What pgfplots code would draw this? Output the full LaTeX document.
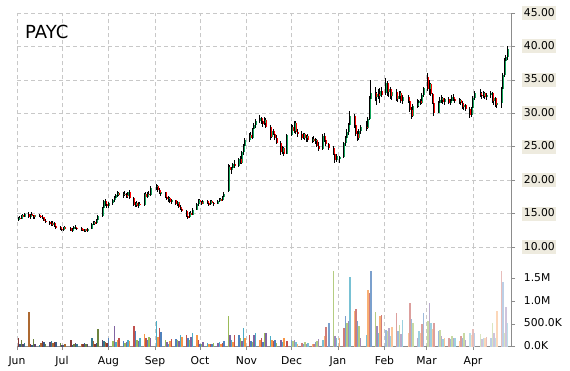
\documentclass[border=0pt]{standalone}
\usepackage{fontspec}
\setmainfont{DejaVu Sans}
\usepackage{pgfplots}
\pgfplotsset{compat=1.18}
\usepackage{pgfplotstable}
\definecolor{upc}{HTML}{12A55A}
\definecolor{dnc}{HTML}{FF0000}
\definecolor{gridc}{HTML}{C8C8C8}
\definecolor{axc}{HTML}{8C8C8C}
\definecolor{tickbg}{HTML}{EEEBDF}
\definecolor{vA}{HTML}{C0504D}
\definecolor{vB}{HTML}{4F81BD}
\definecolor{vC}{HTML}{9BBB59}
\definecolor{vD}{HTML}{8064A2}
\definecolor{vE}{HTML}{4BACC6}
\definecolor{vF}{HTML}{F79646}

\pgfplotstableread{
d o h l c v
1 14.2 14.6 14.0 14.4 0.18
2 14.4 14.7 14.2 14.3 0.05
3 14.3 14.9 14.2 14.8 0.15
4 14.8 15.0 14.5 14.6 0.06
5 14.6 15.1 14.5 15.0 0.08
8 15.0 15.2 14.4 14.5 0.77
9 14.5 15.0 14.3 14.9 0.05
10 14.9 15.2 14.6 14.8 0.04
11 14.8 14.9 14.3 14.5 0.16
12 14.5 14.9 14.3 14.8 0.06
15 14.8 15.0 14.5 14.7 0.04
16 14.7 14.9 14.4 14.6 0.08
17 14.6 14.8 14.2 14.4 0.12
18 14.5 14.6 13.9 14.0 0.10
19 14.0 14.2 13.6 13.8 0.07
22 13.8 14.0 13.4 13.6 0.10
23 13.6 13.9 13.2 13.4 0.12
24 13.4 13.9 13.2 13.7 0.09
25 13.7 13.8 13.0 13.2 0.11
26 13.2 13.4 12.8 13.0 0.10
29 13.0 13.2 12.6 12.8 0.08
30 12.8 13.0 12.4 12.6 0.04
31 12.6 13.1 12.5 13.0 0.03
32 13.0 13.2 12.7 12.9 0.05
36 12.9 13.0 12.4 12.5 0.14
37 12.5 12.9 12.3 12.8 0.04
38 12.8 13.2 12.6 13.1 0.05
39 13.1 13.3 12.8 12.9 0.08
40 12.9 13.1 12.6 12.8 0.05
43 12.8 13.0 12.5 12.7 0.06
44 12.7 12.9 12.4 12.5 0.05
45 12.5 12.8 12.3 12.7 0.08
46 12.7 12.8 12.3 12.4 0.05
47 12.4 12.9 12.3 12.8 0.06
50 12.8 13.6 12.7 13.5 0.20
51 13.5 14.0 13.3 13.8 0.13
52 13.8 14.0 13.4 13.6 0.06
53 13.6 14.2 13.5 14.1 0.08
54 14.1 14.9 14.0 14.7 0.38
57 14.7 16.0 14.6 15.8 0.15
58 15.8 17.1 15.6 16.9 0.12
59 16.9 17.2 16.2 16.4 0.10
60 16.4 16.8 15.8 16.2 0.08
61 16.2 16.8 15.8 16.6 0.18
64 16.6 17.2 16.3 17.0 0.12
65 17.0 17.6 16.8 17.4 0.45
66 17.4 18.0 17.0 17.8 0.10
67 17.8 18.4 17.5 18.1 0.15
68 18.1 18.3 17.6 17.8 0.18
71 17.8 18.2 17.4 18.0 0.12
72 18.0 18.4 17.6 17.8 0.08
73 17.8 18.1 17.3 17.6 0.10
74 17.6 18.3 17.4 18.2 0.15
75 18.3 18.5 17.2 17.3 0.12
78 17.3 17.5 16.1 16.3 0.45
79 16.3 16.8 16.0 16.6 0.35
80 16.6 16.9 16.0 16.2 0.15
81 16.2 16.7 15.9 16.5 0.12
82 16.5 16.8 16.1 16.3 0.18
85 16.3 18.1 16.2 17.9 0.28
86 17.9 18.3 17.2 17.5 0.18
87 17.5 18.2 17.3 18.0 0.15
88 18.0 18.4 17.6 17.8 0.22
89 17.8 19.1 17.7 18.9 0.18
93 19.0 19.5 18.6 19.2 0.57
94 19.2 19.3 18.3 18.5 0.22
95 18.5 18.8 17.9 18.1 0.42
96 18.1 18.4 17.6 18.2 0.33
99 18.2 18.3 17.3 17.5 0.15
100 17.5 17.8 17.0 17.2 0.10
101 17.2 17.6 16.8 17.4 0.07
102 17.4 17.5 16.6 16.8 0.12
103 16.8 17.2 16.5 17.0 0.17
106 17.0 17.1 16.3 16.5 0.17
107 16.5 16.9 16.2 16.7 0.14
108 16.7 16.8 15.8 16.0 0.12
109 16.0 16.3 15.5 15.7 0.25
110 15.7 16.0 15.2 15.4 0.22
113 15.4 15.6 14.5 14.7 0.26
114 14.7 15.0 14.2 14.5 0.18
115 14.5 15.2 14.4 15.1 0.14
116 15.1 15.4 14.7 14.9 0.22
117 14.9 15.8 14.8 15.6 0.31
120 15.6 16.6 15.5 16.4 0.25
121 16.4 17.2 16.2 17.0 0.15
122 17.0 17.2 16.5 16.7 0.06
123 16.7 16.9 16.3 16.5 0.05
124 16.5 17.0 16.4 16.9 0.10
127 16.9 17.1 16.5 16.6 0.08
128 16.6 16.8 16.2 16.4 0.05
129 16.4 17.0 16.3 16.9 0.07
130 16.9 17.1 16.5 16.6 0.05
131 16.6 16.8 16.2 16.5 0.08
134 16.5 17.0 16.4 16.9 0.09
135 16.9 17.3 16.7 17.2 0.10
136 17.2 17.4 16.9 17.0 0.06
137 17.0 17.7 16.9 17.5 0.08
138 17.5 18.2 17.4 18.0 0.12
141 18.4 22.4 18.3 22.0 0.68
142 22.0 22.3 21.2 21.5 0.26
143 21.5 22.0 21.0 21.8 0.15
144 21.8 22.6 21.5 22.4 0.10
145 22.4 23.0 21.9 22.1 0.25
148 22.1 23.4 22.0 23.2 0.25
149 23.2 23.7 22.4 22.6 0.18
150 22.6 24.4 22.5 24.2 0.12
151 24.2 25.4 23.8 25.1 0.42
152 25.1 26.4 24.6 26.0 0.20
155 26.0 27.1 25.7 26.8 0.26
156 26.8 27.2 26.0 26.4 0.12
157 26.4 27.8 26.2 27.6 0.10
158 27.6 28.6 27.2 28.3 0.26
159 28.3 29.2 27.8 28.9 0.31
162 28.9 29.7 28.5 29.3 0.15
163 29.3 29.5 28.4 28.8 0.20
164 28.8 29.1 28.0 28.4 0.10
165 28.5 29.4 28.2 29.0 0.29
166 29.0 29.3 27.8 28.0 0.29
169 28.0 28.2 26.0 26.5 0.24
170 26.5 27.6 26.3 27.3 0.15
171 27.3 27.6 26.8 27.0 0.12
172 27.0 27.4 26.1 26.3 0.15
173 26.3 26.8 25.4 25.6 0.08
176 25.6 25.9 23.8 24.2 0.15
177 24.2 25.2 23.9 24.9 0.10
178 24.9 25.0 23.6 24.0 0.18
180 24.0 27.0 23.9 26.8 0.12
183 26.8 28.4 26.6 28.0 0.14
184 28.0 28.2 27.0 27.3 0.12
185 27.3 28.9 27.1 28.5 0.15
186 28.5 28.8 27.0 27.2 0.10
187 27.2 27.6 26.5 27.0 0.06
190 27.0 27.3 26.1 26.4 0.08
191 26.4 27.1 26.2 26.9 0.05
192 26.9 27.1 26.0 26.3 0.10
193 26.3 26.8 25.7 26.6 0.06
194 26.6 26.9 25.8 26.0 0.08
197 26.0 26.5 25.6 26.2 0.07
198 26.2 26.6 25.7 25.9 0.05
199 25.9 26.3 25.4 26.1 0.10
200 26.1 26.2 25.0 25.2 0.12
201 25.2 25.8 24.4 24.7 0.17
204 24.7 27.0 24.6 26.7 0.14
205 26.7 27.1 25.8 26.0 0.24
206 26.0 26.2 25.2 25.4 0.44
208 25.4 25.6 24.6 24.8 0.53
211 24.8 25.1 23.8 24.0 1.67
212 24.0 24.3 22.6 23.0 0.24
213 23.0 23.9 22.7 23.6 0.20
215 23.2 23.7 22.6 23.5 0.20
218 23.5 25.8 23.3 25.6 0.41
219 25.6 26.6 25.1 26.3 0.68
220 26.3 27.6 26.0 27.2 0.51
221 27.2 28.6 26.8 28.3 0.57
222 28.3 30.3 28.0 29.6 1.52
225 29.6 29.9 27.8 28.2 0.79
226 28.2 28.5 26.6 27.0 0.83
227 27.0 27.4 25.9 26.4 0.56
228 26.4 27.6 26.1 27.3 0.46
229 27.3 28.3 26.9 28.0 0.19
233 28.0 28.8 27.4 27.8 0.26
234 27.8 29.5 27.6 29.2 1.24
235 29.2 32.6 29.0 32.2 1.17
236 32.2 35.0 31.0 33.0 1.67
239 33.0 34.0 31.8 32.4 0.77
240 32.4 33.2 31.2 32.9 0.46
241 32.9 33.6 32.2 32.6 0.30
242 32.6 33.8 31.5 33.4 0.67
243 33.4 34.0 32.5 32.8 0.70
246 33.0 35.3 32.8 34.6 0.37
247 34.6 34.8 32.6 33.2 0.35
248 33.2 33.9 32.4 33.6 0.41
249 33.6 33.9 32.2 32.6 0.24
250 32.6 33.5 32.0 33.2 0.44
253 33.2 33.6 31.8 32.2 0.73
254 32.2 32.9 31.7 32.6 0.35
255 32.6 33.4 32.2 33.1 0.48
256 33.1 33.3 31.6 31.9 0.28
257 31.9 32.8 31.4 32.4 0.58
261 32.4 32.7 31.5 31.8 0.30
262 31.8 32.0 30.2 30.5 0.95
263 30.5 31.0 29.2 29.6 0.61
264 29.6 31.4 29.4 31.1 0.53
267 31.1 32.2 30.8 31.6 0.20
268 31.6 32.0 31.0 31.8 0.35
269 31.8 32.1 31.2 31.5 0.30
270 31.5 33.0 31.4 32.8 0.50
271 32.8 33.9 32.4 33.8 0.73
274 35.4 36.0 33.4 33.7 0.56
275 33.7 35.0 32.8 34.4 0.95
276 34.4 34.6 32.6 32.9 0.53
277 32.9 33.1 31.4 31.6 0.39
278 31.6 31.9 29.6 30.1 0.51
281 30.1 31.8 30.0 31.5 0.35
282 31.5 32.4 31.3 32.0 0.37
283 32.0 32.8 31.6 32.3 0.24
284 32.3 32.5 31.4 31.7 0.17
285 31.7 32.3 31.3 32.1 0.19
288 32.1 32.4 31.4 31.6 0.20
289 31.6 32.1 31.2 31.9 0.17
290 31.9 32.8 31.7 32.5 0.24
291 32.5 32.9 31.8 32.1 0.20
292 32.1 32.4 31.5 31.8 0.18
295 31.8 32.3 31.4 32.0 0.13
296 32.0 32.2 31.2 31.5 0.24
297 31.5 31.9 30.7 31.0 0.18
298 31.0 31.6 30.5 31.2 0.31
299 31.2 31.4 30.3 30.6 0.15
302 30.6 30.9 29.3 29.7 0.30
303 29.7 31.0 29.5 30.8 0.25
304 30.8 32.6 30.4 32.3 0.39
305 32.3 33.4 32.0 33.0 0.30
309 33.0 33.6 32.4 32.8 0.28
310 32.8 33.2 32.2 32.6 0.16
311 32.6 33.3 32.3 33.1 0.20
312 33.1 33.2 32.1 32.4 0.18
313 32.4 33.0 32.0 32.7 0.22
316 32.7 33.4 32.3 33.0 0.20
317 33.0 33.2 31.6 31.9 0.51
318 31.9 32.6 31.2 32.3 0.31
319 32.3 32.5 31.0 31.3 0.20
320 31.3 32.0 30.8 31.6 0.79
323 31.6 34.0 30.8 33.6 1.67
324 33.6 36.0 33.3 35.7 1.41
325 35.7 38.3 35.4 37.8 0.30
326 37.8 38.8 37.0 38.4 0.86
327 38.4 40.0 38.0 39.6 0.53
}\data

\pgfplotsset{
  mybase/.style={
    scale only axis, width=494.7pt, xmin=0, xmax=329.8,
    xtick={0,30,61,92,122,153,183,214,245,273,304},
    xmajorgrids,
    grid style={gridc, dash pattern=on 4pt off 3pt, line width=0.8pt},
    axis y line*=right, axis x line*=bottom,
    y axis line style={axc, line width=0.8pt},
    tick style={axc, line width=0.8pt},
    tick align=outside, major tick length=3.5pt,
    ticklabel style={font=\fontsize{10.8}{13}\selectfont, text=black},
    yticklabel style={anchor=west, xshift=7pt, inner xsep=1.5pt, inner ysep=2pt, text height=8pt, text depth=2pt},
    xticklabel style={yshift=-2.5pt},
  }
}
\newcommand{\vb}[4]{\addplot[ycomb, mark=none, draw=#1, line width=1.1pt,
   restrict x to domain=#2:#3, restrict expr to domain={mod(\coordindex,6)}{#4}]
   table[x=d, y=v]{\data};}
\newcommand{\vset}[3]{%
  \vb{vA#3}{#1}{#2}{-0.5:0.5}\vb{vB#3}{#1}{#2}{0.5:1.5}\vb{vC#3}{#1}{#2}{1.5:2.5}%
  \vb{vD#3}{#1}{#2}{2.5:3.5}\vb{vE#3}{#1}{#2}{3.5:4.5}\vb{vF#3}{#1}{#2}{4.5:5.5}}

\begin{document}
\begin{tikzpicture}
\path[use as bounding box, fill=white] (0,0) rectangle (570pt,-370pt);
\begin{axis}[mybase, at={(17pt,-247.3pt)}, anchor=south west, height=234.3pt,
  ymin=10, ymax=45, ytick={10,15,20,25,30,35,40,45},
  yticklabels={10.00,15.00,20.00,25.00,30.00,35.00,40.00,45.00},
  yticklabel style={fill=tickbg},
  ymajorgrids,
  x axis line style={draw=none}, xtick style={draw=none}, xticklabels={}]
\addplot[draw=none, mark=none, error bars/.cd, y dir=both, y explicit, error mark=none,
  error bar style={draw=black, line width=0.9pt}]
  table[x expr=\thisrow{d}-0.25, y expr=(\thisrow{h}+\thisrow{l})/2, y error expr=(\thisrow{h}-\thisrow{l})/2]{\data};
\addplot[draw=none, mark=none, restrict expr to domain={\thisrow{c}-\thisrow{o}}{0:100},
  error bars/.cd, y dir=both, y explicit, error mark=none,
  error bar style={draw=upc, line width=1.2pt}]
  table[x expr=\thisrow{d}+0.5, y expr=(\thisrow{o}+\thisrow{c})/2, y error expr={max(abs(\thisrow{c}-\thisrow{o})/2,0.1)}]{\data};
\addplot[draw=none, mark=none, restrict expr to domain={\thisrow{c}-\thisrow{o}}{-100:-0.001},
  error bars/.cd, y dir=both, y explicit, error mark=none,
  error bar style={draw=dnc, line width=1.2pt}]
  table[x expr=\thisrow{d}+0.5, y expr=(\thisrow{o}+\thisrow{c})/2, y error expr={max(abs(\thisrow{c}-\thisrow{o})/2,0.1)}]{\data};
\end{axis}
\begin{axis}[mybase, at={(17pt,-346.7pt)}, anchor=south west, height=99.4pt,
  ymin=0, ymax=2.18, ytick={0,0.5,1,1.5},
  yticklabels={0.0K,500.0K,1.0M,1.5M},
  x axis line style={axc, line width=0.8pt},
  xticklabels={Jun,Jul,Aug,Sep,Oct,Nov,Dec,Jan,Feb,Mar,Apr}]
\vset{0}{60.5}{!70!black}
\vset{60.5}{182.5}{}
\vset{182.5}{244.5}{!75!white}
\vset{244.5}{300.5}{!55!white}
\vset{300.5}{330}{!38!white}
\end{axis}
\node[anchor=base west, font=\fontsize{18}{20}\selectfont, inner sep=0pt] at (25pt,-38pt) {PAYC};
\end{tikzpicture}
\end{document}
